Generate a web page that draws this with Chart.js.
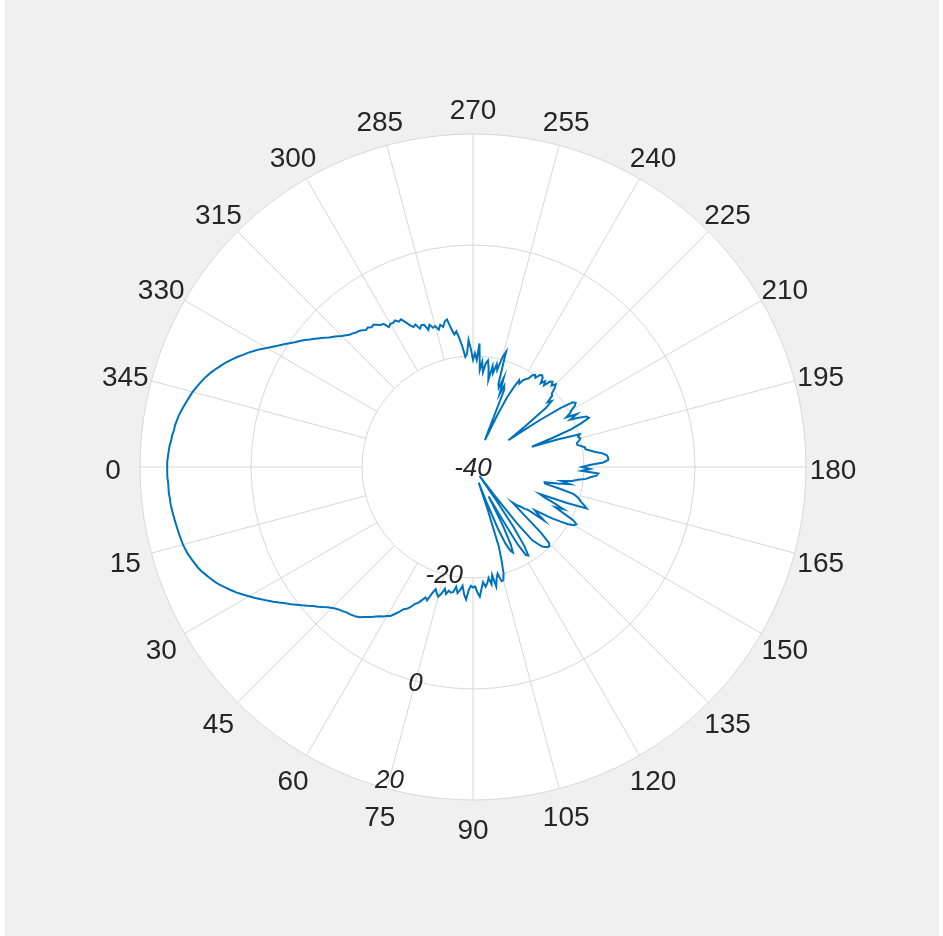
<!DOCTYPE html>
<html>
<head>
<meta charset="utf-8">
<script src="https://cdn.jsdelivr.net/npm/chart.js@4.4.1/dist/chart.umd.min.js"></script>
<style>
    html, body { margin: 0; padding: 0; background: #ffffff; }
    #bg { position: absolute; left: 5px; top: 0; width: 934px; height: 936px; background: #f0f0f0; }
    #wrap { position: absolute; left: 0; top: 0; width: 943px; height: 936px; }
</style>
</head>
<body>
<div id="bg"></div>
<div id="wrap"><canvas id="polarChart"></canvas></div>
<script>
// angle tick labels (degrees) and radial tick labels (dB)
var thetaTicks = [0, 15, 30, 45, 60, 75, 90, 105, 120, 135, 150, 165, 180, 195, 210, 225, 240, 255, 270, 285, 300, 315, 330, 345];
var rTicks = [-40, -20, 0, 20];
var rTickAngle = 75;

// gain in dB for theta = 0..359 degrees
var gainDb = [
    15.1, 15.1, 15.1, 15.0, 15.0, 15.0, 14.9, 14.9, 14.8, 14.7,
    14.6, 14.5, 14.4, 14.3, 14.2, 14.1, 13.9, 13.7, 13.4, 13.1,
    12.8, 12.4, 11.9, 11.4, 10.9, 10.3, 9.6, 8.9, 8.2, 7.4,
    6.6, 5.8, 5.0, 4.2, 3.4, 2.6, 1.8, 1.1, 0.3, -0.4,
    -1.1, -1.8, -2.4, -3.0, -3.6, -4.1, -4.5, -4.8, -5.0, -5.3,
    -5.4, -5.6, -5.8, -6.1, -6.6, -7.0, -7.4, -7.9, -8.3, -8.6,
    -9.0, -9.3, -10.0, -10.7, -11.5, -11.8, -12.4, -13.2, -13.6, -14.3,
    -15.0, -14.6, -16.0, -17.0, -16.3, -15.8, -16.5, -17.5, -16.6, -17.3,
    -17.0, -17.2, -18.2, -17.1, -17.7, -18.5, -17.0, -16.1, -17.8, -18.6,
    -18.3, -18.5, -17.4, -16.6, -18.0, -19.2, -18.3, -18.9, -19.8, -18.6,
    -20.2, -18.1, -19.5, -20.3, -18.8, -18.9, -20.0, -22.4, -25.0, -32.0,
    -37.0, -33.0, -28.0, -25.0, -23.5, -23.0, -24.5, -28.0, -34.0, -30.0,
    -24.0, -21.5, -21.2, -23.0, -27.0, -33.0, -38.0, -34.0, -27.0, -23.0,
    -22.0, -21.0, -20.6, -20.3, -20.2, -20.6, -23.0, -28.0, -30.5, -29.5,
    -29.0, -28.0, -27.5, -24.0, -25.5, -26.4, -25.0, -23.0, -21.5, -20.0,
    -19.0, -18.7, -19.5, -21.8, -23.5, -22.0, -24.0, -26.0, -27.0, -22.0,
    -18.2, -18.8, -19.5, -19.9, -20.5, -21.3, -24.0, -26.7, -26.8, -24.5,
    -22.3, -23.9, -22.0, -21.0, -19.5, -18.8, -17.7, -17.4, -20.4, -18.9,
    -20.4, -19.0, -16.5, -15.6, -15.6, -15.8, -16.5, -17.8, -18.7, -19.5,
    -19.5, -20.2, -20.8, -20.8, -20.3, -20.0, -20.3, -19.9, -24.0, -28.8,
    -25.0, -21.0, -19.0, -17.3, -17.6, -19.0, -20.5, -19.0, -21.0, -20.0,
    -19.5, -18.6, -18.2, -18.6, -21.0, -25.0, -29.0, -32.0, -28.0, -23.0,
    -21.5, -22.2, -20.8, -20.6, -19.5, -18.9, -19.6, -19.0, -19.3, -20.5,
    -19.8, -20.6, -19.6, -19.3, -19.5, -20.4, -20.0, -20.3, -21.2, -21.5,
    -21.9, -22.8, -22.3, -24.0, -26.0, -30.0, -34.7, -33.0, -25.0, -24.3,
    -26.0, -23.0, -25.0, -24.3, -18.4, -19.5, -22.0, -21.0, -22.7, -21.5,
    -24.1, -22.0, -20.6, -21.2, -22.8, -21.0, -22.5, -17.7, -20.7, -19.5,
    -20.7, -18.8, -17.1, -19.5, -20.1, -18.3, -16.8, -15.4, -15.9, -14.7,
    -13.0, -13.3, -14.2, -13.7, -14.5, -13.7, -13.9, -13.2, -14.0, -12.9,
    -12.8, -13.3, -12.3, -12.6, -12.0, -11.2, -10.4, -10.6, -10.1, -10.3,
    -10.2, -10.6, -9.6, -9.5, -9.1, -8.7, -8.9, -8.5, -8.7, -8.3,
    -8.0, -7.9, -7.6, -7.4, -7.0, -6.6, -6.1, -5.6, -5.1, -4.5,
    -3.9, -3.3, -2.7, -2.0, -1.4, -0.8, -0.1, 0.6, 1.3, 2.1,
    2.9, 3.8, 4.6, 5.4, 6.1, 6.9, 7.6, 8.3, 8.9, 9.5,
    10.1, 10.6, 11.1, 11.5, 11.9, 12.3, 12.6, 12.9, 13.2, 13.5,
    13.8, 14.0, 14.2, 14.3, 14.5, 14.6, 14.8, 14.9, 15.0, 15.1
];

var gridColor = '#d7d7d7';
var textColor = '#262626';

// Chart.js goes clockwise from startAngle, the plot goes counter-clockwise from the left,
// so the labels run 0, 359, 358, ...
var labels = [];
var values = [];
for (var i = 0; i < gainDb.length; i++) {
    var theta = (360 - i) % 360;
    labels.push(theta);
    values.push(gainDb[theta]);
}

var polarDecor = {
    id: 'polarDecor',
    beforeDraw: function (chart) {
        var s = chart.scales.r;
        var ctx = chart.ctx;
        ctx.save();
        ctx.fillStyle = '#ffffff';
        ctx.beginPath();
        ctx.arc(s.xCenter, s.yCenter, s.drawingArea, 0, Math.PI * 2);
        ctx.fill();
        ctx.restore();
    },
    beforeDatasetsDraw: function (chart) {
        // spokes start at the -20 ring
        var s = chart.scales.r;
        var ctx = chart.ctx;
        var inner = s.getDistanceFromCenterForValue(rTicks[1]);
        var outer = s.getDistanceFromCenterForValue(rTicks[rTicks.length - 1]);
        ctx.save();
        ctx.strokeStyle = gridColor;
        ctx.lineWidth = 1;
        thetaTicks.forEach(function (t) {
            var idx = labels.indexOf(t);
            var a = s.getPointPosition(idx, inner);
            var b = s.getPointPosition(idx, outer);
            ctx.beginPath();
            ctx.moveTo(a.x, a.y);
            ctx.lineTo(b.x, b.y);
            ctx.stroke();
        });
        ctx.restore();
    },
    afterDraw: function (chart) {
        var s = chart.scales.r;
        var ctx = chart.ctx;
        ctx.save();
        ctx.fillStyle = textColor;
        ctx.textAlign = 'center';
        ctx.textBaseline = 'middle';
        ctx.font = '28px "Liberation Sans", Arial, sans-serif';
        thetaTicks.forEach(function (t) {
            var p = s.getPointPosition(labels.indexOf(t), s.drawingArea + 27);
            ctx.fillText(String(t), p.x, p.y + 4);
        });
        ctx.font = 'italic 26px "Liberation Sans", Arial, sans-serif';
        var idx = labels.indexOf(rTickAngle);
        rTicks.forEach(function (v) {
            var d = Math.min(s.getDistanceFromCenterForValue(v), s.drawingArea - 10);
            var p = s.getPointPosition(idx, d);
            ctx.fillText(String(v), p.x, p.y + 2);
        });
        ctx.restore();
    }
};

var ctx = document.getElementById('polarChart').getContext('2d');
var polarChart = new Chart(ctx, {
    type: 'radar',
    data: {
        labels: labels,
        datasets: [{
            data: values,
            borderColor: '#0072BD',
            borderWidth: 2,
            pointRadius: 0,
            pointHoverRadius: 0,
            fill: false,
            tension: 0
        }]
    },
    options: {
        responsive: true,
        maintainAspectRatio: false,
        animation: false,
        layout: { padding: { left: 140, right: 137, top: 134, bottom: 136 } },
        plugins: { legend: { display: false }, tooltip: { enabled: false } },
        scales: {
            r: {
                startAngle: 270,
                min: rTicks[0],
                max: rTicks[rTicks.length - 1],
                ticks: { display: false, stepSize: 20 },
                grid: { circular: true, color: gridColor, lineWidth: 1 },
                angleLines: { display: false },
                pointLabels: { display: false }
            }
        }
    },
    plugins: [polarDecor]
});
</script>
</body>
</html>
